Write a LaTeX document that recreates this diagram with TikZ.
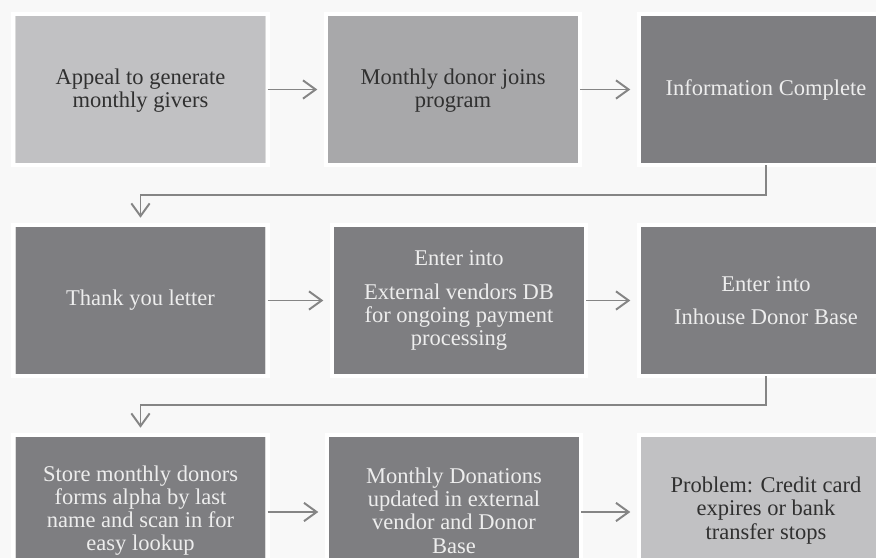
\documentclass[tikz,border=0pt]{standalone}
\usepackage{fontspec}
\setmainfont{Liberation Serif}
\usetikzlibrary{arrows.meta}
\definecolor{paper}{HTML}{F8F8F8}
\definecolor{palegray}{HTML}{C1C1C3}
\definecolor{midgray}{HTML}{A8A8AA}
\definecolor{darkgray}{HTML}{7E7E81}
\definecolor{framegray}{HTML}{DCDCDC}
\definecolor{wiregray}{HTML}{858585}
\definecolor{inkgray}{HTML}{303030}
\begin{document}
\begin{tikzpicture}[
		x=0.025cm, y=-0.025cm,
		every node/.style={align=center, font=\fontsize{16}{16.5}\selectfont},
		stage/.style={rectangle, inner sep=0pt, minimum width=6.35cm, minimum height=3.775cm, draw=framegray, double=white, double distance=0.1cm, line width=0.3pt},
		soft/.style={stage, fill=palegray, text=inkgray},
		medium/.style={stage, fill=midgray, text=inkgray},
		deep/.style={stage, fill=darkgray, text=white!93!black},
		flow/.style={draw=wiregray, line width=1.4pt, -{Straight Barb[length=9pt, width=13pt]}, shorten >=6pt}
		]
		
		\useasboundingbox (0,0) rectangle (876,558);
		\clip (0,0) rectangle (876,558);
		\fill[paper] (0,0) rectangle (876,558);
		
		% Row 1
		\node[soft] (appeal) at (140.5,89.5) {\\[-4pt]Appeal to generate\\monthly givers};
		\node[medium] (joins) at (453,89.5) {\\[-4pt]Monthly donor joins\\program};
		\node[deep] (complete) at (766,89.5) {Information Complete};
		
		% Row 2
		\node[deep] (thanks) at (140.5,300.5) {Thank you letter};
		\node[deep] (external) at (459,300.5) {Enter into\\[8pt]External vendors DB\\for ongoing payment\\processing};
		\node[deep] (inhouse) at (766,300.5) {Enter into\\[7pt]Inhouse Donor Base};
		
		% Row 3
		\node[deep] (store) at (140.5,510.5) {Store monthly donors\\forms alpha by last\\name  and scan in for\\easy lookup};
		\node[deep] (updated) at (454,510.5) {Monthly Donations\\updated in external\\vendor and Donor\\Base};
		\node[soft] (problem) at (766,510.5) {Problem: Credit card\\expires or bank\\transfer stops};
		
		% Arrows
		\draw[flow] (appeal) -- (joins);
		\draw[flow] (joins) -- (complete);
		\draw[flow, shorten >=5pt] (complete.south) -- ++(0,30) -| (thanks.north);
		\draw[flow] (thanks) -- (external);
		\draw[flow] (external) -- (inhouse);
		\draw[flow, shorten >=5pt] (inhouse.south) -- ++(0,29) -| (store.north);
		\draw[flow] (store.east |- 0,512) -- (updated.west |- 0,512);
		\draw[flow] (updated.east |- 0,512) -- (problem.west |- 0,512);
		
	\end{tikzpicture}
\end{document}
